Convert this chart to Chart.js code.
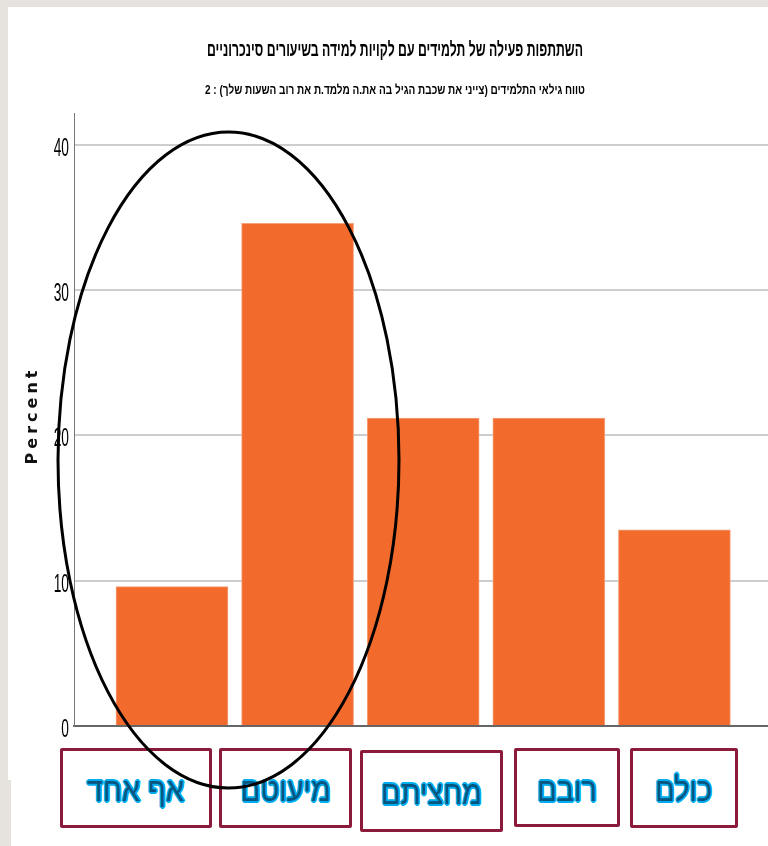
<!DOCTYPE html>
<html lang="he">
<head>
<meta charset="utf-8">
<title>השתתפות פעילה של תלמידים</title>
<script src="https://cdn.jsdelivr.net/npm/chart.js@4.4.1/dist/chart.umd.min.js"></script>
<style>
body { margin: 0; width: 768px; height: 846px; background: #e6e3df; position: relative; overflow: hidden; }
#panel { position: absolute; left: 8px; top: 7px; width: 760px; height: 839px; background: #fff; }
#notch { position: absolute; left: 8px; top: 780px; width: 3px; height: 66px; background: #e6e3df; }
#chart { position: absolute; left: 0; top: 0; }
#strip { position: absolute; left: 40px; top: 737px; width: 728px; height: 109px; background: #fff; }
.box {
    position: absolute; box-sizing: border-box; padding-top: 4px;
    border: 3px solid #8c1b3b; border-radius: 2px; background: #fff;
    display: flex; align-items: center; justify-content: center;
    font-family: "Liberation Sans", Arial, sans-serif; font-size: 30px;
    color: #08557f; direction: rtl;
    text-shadow: 0 0 2px #00aeef, 1.5px 0 0 #00aeef, -1.5px 0 0 #00aeef, 0 1.5px 0 #00aeef, 0 -1.5px 0 #00aeef,
                 1px 1px 0 #00aeef, -1px -1px 0 #00aeef, 1px -1px 0 #00aeef, -1px 1px 0 #00aeef;
}
.box span { display: inline-block; transform: scale(0.96, 1.1); }
#ring { position: absolute; left: 0; top: 0; pointer-events: none; }
</style>
</head>
<body>
<div id="panel"></div>
<div id="notch"></div>
<canvas id="chart" width="768" height="846"></canvas>
<div id="strip"></div>
<div id="labels"></div>
<svg id="ring" width="768" height="846">
    <ellipse cx="228.5" cy="460" rx="170.5" ry="328" fill="none" stroke="#000" stroke-width="3"/>
</svg>
<script>
// data
var categories = ["אף אחד", "מיעוטם", "מחציתם", "רובם", "כולם"];
var percent = [9.6, 34.6, 21.2, 21.2, 13.5];
var yTicks = [0, 10, 20, 30, 40];
var titleText = "השתתפות פעילה של תלמידים עם לקויות למידה בשיעורים סינכרוניים";
var subtitleText = "טווח גילאי התלמידים (צייני את שכבת הגיל בה את.ה מלמד.ת את רוב השעות שלך) : 2";
var yTitle = "Percent";

// boxed category labels under the bars (placed by hand in the original)
var boxes = [
    { left: 60, top: 748, width: 152, height: 80 },
    { left: 219, top: 748, width: 133, height: 80 },
    { left: 360, top: 750, width: 143, height: 82 },
    { left: 514, top: 748, width: 106, height: 79 },
    { left: 630, top: 748, width: 108, height: 80 }
];

var labelsDiv = document.getElementById("labels");
for (var i = 0; i < categories.length; i++) {
    var b = document.createElement("div");
    b.className = "box";
    b.style.left = boxes[i].left + "px";
    b.style.top = boxes[i].top + "px";
    b.style.width = boxes[i].width + "px";
    b.style.height = boxes[i].height + "px";
    var s = document.createElement("span");
    s.textContent = categories[i];
    b.appendChild(s);
    labelsDiv.appendChild(b);
}

// SPSS style narrow text: squeeze horizontally
function narrowText(ctx, text, x, y, font, sx, align, dir) {
    ctx.save();
    ctx.translate(x, y);
    ctx.scale(sx, 1);
    ctx.font = font;
    ctx.direction = dir || "ltr";
    ctx.textAlign = align;
    ctx.textBaseline = "middle";
    ctx.fillStyle = "#000";
    ctx.fillText(text, 0, 0);
    ctx.restore();
}

function fitWidth(ctx, text, font, width) {
    ctx.save();
    ctx.font = font;
    var w = ctx.measureText(text).width;
    ctx.restore();
    return width / w;
}

var textPlugin = {
    id: "spssText",
    afterDraw: function (chart) {
        var ctx = chart.ctx;
        var y = chart.scales.y;

        var tFont = "bold 20px 'Liberation Sans', Arial, sans-serif";
        narrowText(ctx, titleText, 395, 50, tFont, fitWidth(ctx, titleText, tFont, 376), "center", "rtl");
        var sFont = "bold 13px 'Liberation Sans', Arial, sans-serif";
        narrowText(ctx, subtitleText, 395, 90, sFont, fitWidth(ctx, subtitleText, sFont, 380), "center", "rtl");

        // tick labels
        var kFont = "25px 'Liberation Sans', Arial, sans-serif";
        yTicks.forEach(function (v) {
            narrowText(ctx, String(v), y.right - 5, y.getPixelForValue(v) + 4, kFont, 0.55, "right");
        });

        // axis title
        ctx.save();
        ctx.translate(33, (y.top + y.bottom) / 2 - 2);
        ctx.rotate(-Math.PI / 2);
        ctx.letterSpacing = "4px";
        ctx.font = "bold 16px 'DejaVu Sans', sans-serif";
        ctx.fillStyle = "#111";
        ctx.textAlign = "center";
        ctx.textBaseline = "middle";
        ctx.fillText(yTitle, 2, 0);
        ctx.restore();
    }
};

var ctx = document.getElementById("chart").getContext("2d");
var chart = new Chart(ctx, {
    type: "bar",
    data: {
        datasets: [{
            label: yTitle,
            data: categories.map(function (c, i) { return { x: i, y: percent[i] }; }),
            backgroundColor: "#f26a2c",
            borderColor: "#f6a27c",
            borderWidth: 1,
            borderSkipped: "bottom",
            barThickness: 112
        }]
    },
    options: {
        responsive: false,
        devicePixelRatio: 1,
        animation: false,
        layout: { padding: { left: 0, right: 0, top: 113, bottom: 120 } },
        plugins: {
            legend: { display: false },
            tooltip: { enabled: false }
        },
        scales: {
            x: {
                type: "linear",
                min: -0.78,
                max: 4.745,
                offset: false,
                grid: { display: false, drawTicks: false },
                ticks: { display: false },
                border: { display: true, color: "#666", width: 2 },
                afterFit: function (s) { s.height = 0; }
            },
            y: {
                min: 0,
                max: 42.2,
                afterBuildTicks: function (s) { s.ticks = yTicks.map(function (v) { return { value: v }; }); },
                grid: { color: "#cdcdcd", lineWidth: 2, drawTicks: false },
                border: { display: true, color: "#777", width: 1 },
                ticks: { display: false },
                afterFit: function (s) { s.width = 74; }
            }
        }
    },
    plugins: [textPlugin]
});
</script>
</body>
</html>
